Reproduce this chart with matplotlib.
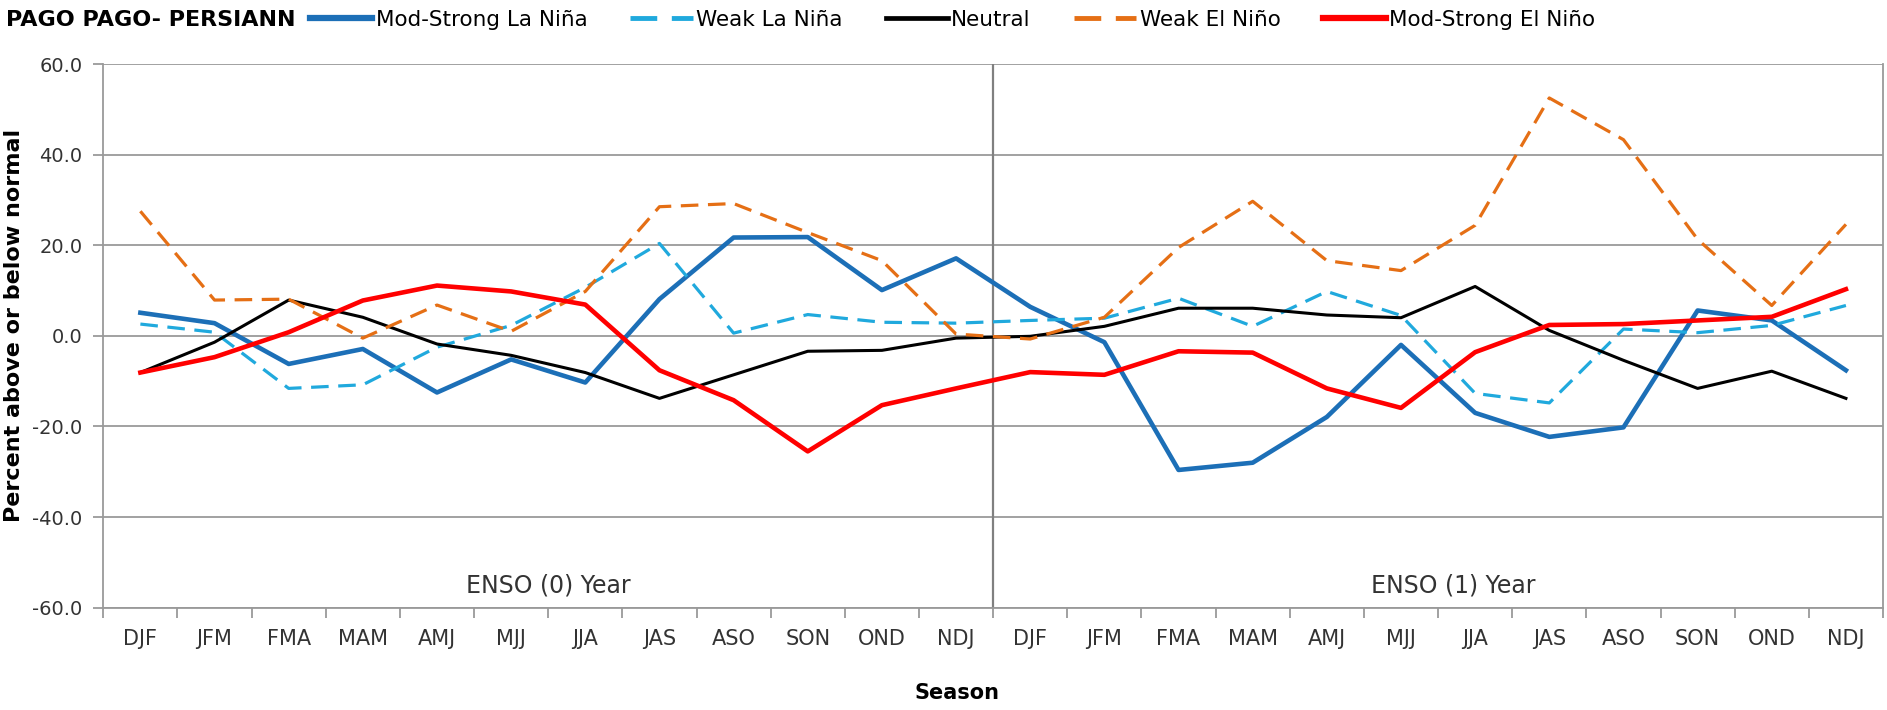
import matplotlib
matplotlib.use("Agg")
import matplotlib.pyplot as plt
from matplotlib.ticker import FixedLocator, FormatStrFormatter

plt.rcParams['font.family'] = ['DejaVu Sans']

seasons = ["DJF", "JFM", "FMA", "MAM", "AMJ", "MJJ", "JJA", "JAS", "ASO", "SON", "OND", "NDJ"]
tick_labels = seasons + seasons

mod_strong_la_nina = [5.1, 2.8, -6.2, -2.9, -12.5, -5.2, -10.3, 8.1, 21.7, 21.8, 10.1, 17.1,
                      6.4, -1.4, -29.6, -28.0, -17.9, -2.0, -17.0, -22.3, -20.2, 5.6, 3.4, -7.6]
weak_la_nina = [2.6, 0.8, -11.6, -10.8, -2.5, 2.3, 10.7, 20.4, 0.6, 4.7, 3.0, 2.8,
                3.4, 3.9, 8.3, 2.1, 9.8, 4.5, -12.7, -14.8, 1.5, 0.7, 2.3, 6.7]
neutral = [-8.1, -1.4, 7.9, 4.1, -1.8, -4.3, -8.1, -13.8, -8.6, -3.4, -3.2, -0.5,
           -0.1, 2.1, 6.1, 6.1, 4.6, 4.0, 10.9, 1.2, -5.4, -11.6, -7.8, -13.8]
weak_el_nino = [27.5, 7.9, 8.1, -0.5, 6.8, 1.0, 9.8, 28.5, 29.2, 22.8, 16.6, 0.4,
                -0.7, 4.1, 19.5, 29.7, 16.6, 14.4, 24.4, 52.5, 43.3, 21.3, 6.7, 24.6]
mod_strong_el_nino = [-8.1, -4.7, 0.8, 7.8, 11.1, 9.8, 6.9, -7.6, -14.2, -25.5, -15.3, -11.6,
                      -8.0, -8.6, -3.4, -3.7, -11.6, -15.9, -3.6, 2.4, 2.6, 3.4, 4.2, 10.3]

W, H = 1887, 710
fig = plt.figure(figsize=(W / 100, H / 100), dpi=100)
left, right, top, bottom = 103.3, 1883.0, 64.0, 607.7
ax = fig.add_axes([left / W, 1 - bottom / H, (right - left) / W, (bottom - top) / H])

x = list(range(len(tick_labels)))
grid_col = "#9a9a9a"

ax.plot(x, mod_strong_la_nina, color="#1C6FB7", lw=3.3, label="Mod-Strong La Niña", zorder=3,
        solid_joinstyle="round")
ax.plot(x, weak_la_nina, color="#20A9DD", lw=2.3, dashes=(5.5, 3), label="Weak La Niña", zorder=3)
ax.plot(x, neutral, color="black", lw=2.2, label="Neutral", zorder=3)
ax.plot(x, weak_el_nino, color="#E56F15", lw=2.3, dashes=(5.5, 3), label="Weak El Niño", zorder=3)
ax.plot(x, mod_strong_el_nino, color="#FF0000", lw=3.3, label="Mod-Strong El Niño", zorder=3,
        solid_joinstyle="round")

ax.set_xlim(-0.5, len(x) - 0.5)
ax.set_ylim(-60, 60)
ax.yaxis.set_major_locator(FixedLocator([-60, -40, -20, 0, 20, 40, 60]))
ax.yaxis.set_major_formatter(FormatStrFormatter("%.1f"))
ax.grid(axis="y", color=grid_col, lw=1.3, zorder=0)
ax.set_axisbelow(True)

ax.set_xticks(x)
ax.set_xticklabels(tick_labels)
ax.set_xticks([i - 0.5 for i in range(len(x) + 1)], minor=True)
ax.tick_params(axis="x", which="major", length=0, pad=15, labelsize=15, colors="#333333")
ax.tick_params(axis="x", which="minor", length=7, width=1.3, color=grid_col)
ax.tick_params(axis="y", which="major", length=7, width=1.3, color=grid_col,
               pad=8, labelsize=14, labelcolor="#333333")

for side in ["left", "right", "bottom", "top"]:
    ax.spines[side].set_color(grid_col)
    ax.spines[side].set_linewidth(1.3)
ax.spines["top"].set_visible(False)

ax.axvline(11.5, color="#808080", lw=1.6, zorder=1)

ax.text(5.5, -55, "ENSO (0) Year", ha="center", va="center", fontsize=17, color="#333333")
ax.text(17.7, -55, "ENSO (1) Year", ha="center", va="center", fontsize=17, color="#333333")

fig.text(957 / W, 1 - 693 / H, "Season", ha="center", va="center", fontsize=15, fontweight="bold")
fig.text(14 / W, 1 - 325 / H, "Percent above or below normal", ha="center", va="center",
         rotation=90, fontsize=16, fontweight="bold")
fig.text(6 / W, 1 - 20 / H, "PAGO PAGO- PERSIANN", ha="left", va="center",
         fontsize=16, fontweight="bold")

leg = fig.legend(loc="center left", bbox_to_anchor=(310 / W, 1 - 20 / H), ncol=5, frameon=False,
                 fontsize=15.5, handlelength=2.9, handletextpad=0.15, columnspacing=2.0,
                 borderaxespad=0, borderpad=0)
for line in leg.get_lines():
    line.set_linewidth(line.get_linewidth() + 1.2)

fig.savefig("out.png", dpi=100)
